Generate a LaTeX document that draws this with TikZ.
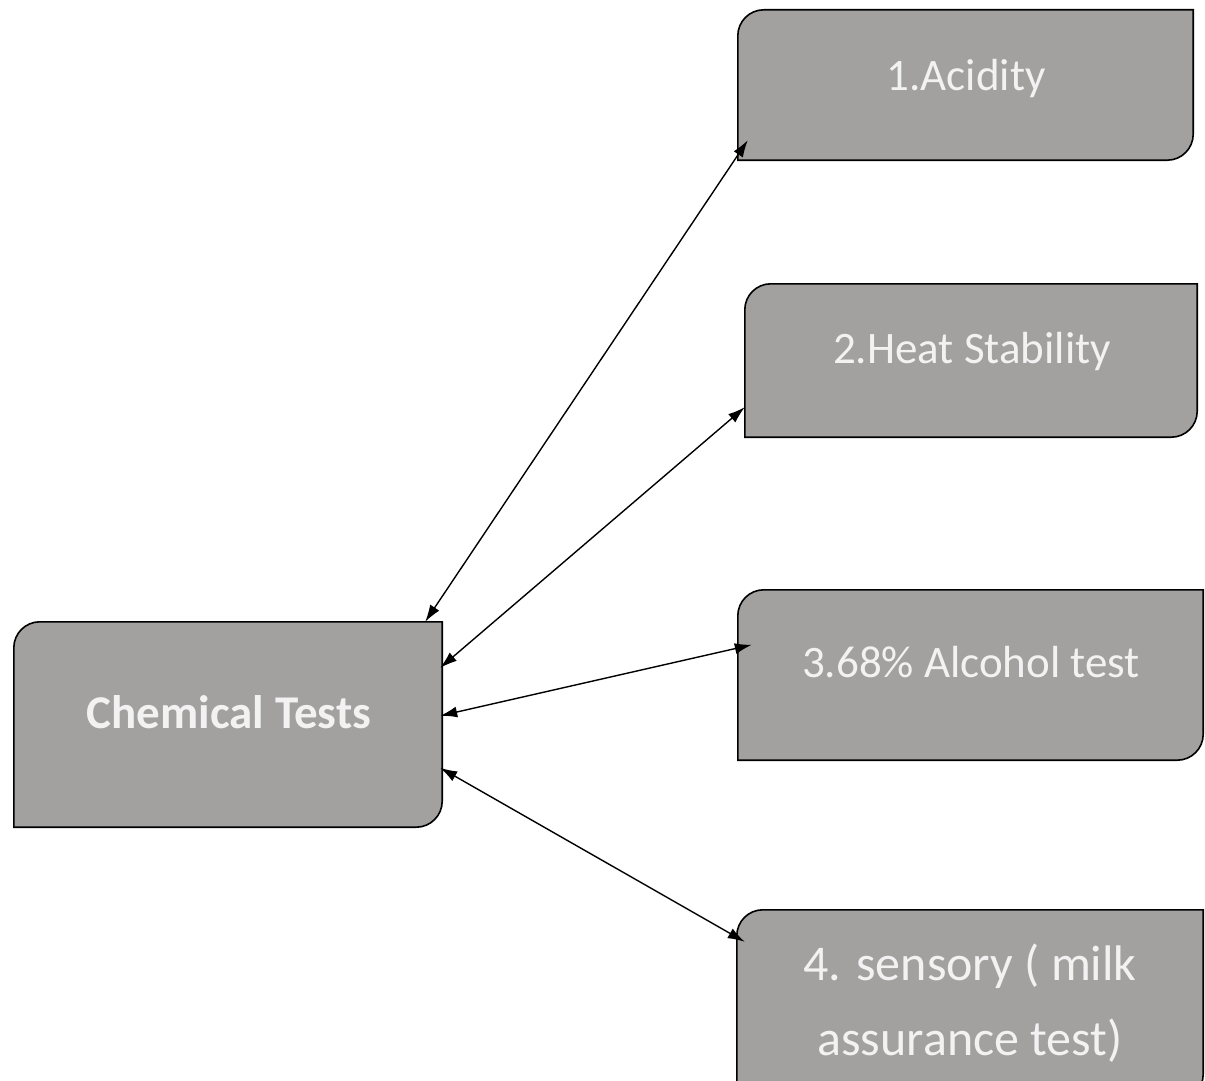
\documentclass[tikz,border=0pt]{standalone}
\usepackage{fontspec}
\setmainfont{Carlito}
\usetikzlibrary{calc,backgrounds,arrows.meta}
\definecolor{boxgray}{RGB}{163,160,160}
\definecolor{boxtext}{RGB}{242,242,242}
\tikzset{
  testbox/.style={inner sep=0pt},
  boxlabel/.style={inner sep=0pt, text=boxtext, align=center},
  link/.style={line width=1.4pt, {Latex[length=17pt,width=11pt]}-{Latex[length=17pt,width=11pt]}},
  shapefill/.style={fill=boxgray, draw=black, line width=1.6pt}
}
\newcommand\diagshape[1]{%
  \path[shapefill] (#1.south west) -- ($(#1.north west)+(0pt,-26pt)$)
    arc[start angle=180,end angle=90,radius=26pt] -- (#1.north east)
    -- ($(#1.south east)+(0pt,26pt)$)
    arc[start angle=0,end angle=-90,radius=26pt] -- cycle;}
\begin{document}
\begin{tikzpicture}[x=1pt,y=-1pt]
\clip (0,0) rectangle (1205,1081);
% boxes
\node[testbox, minimum width=428pt, minimum height=205pt] (chem) at (228,724.5) {};
\node[testbox, minimum width=455pt, minimum height=150pt] (acid) at (965.5,85) {};
\node[testbox, minimum width=452pt, minimum height=153pt] (heat) at (971,360.5) {};
\node[testbox, minimum width=465pt, minimum height=170pt] (alc) at (970.5,675) {};
\node[testbox, minimum width=466pt, minimum height=190pt] (sens) at (970,1005) {};
\begin{scope}[on background layer]
\fill[white] (0,0) rectangle (1205,1081);
\diagshape{chem}
\diagshape{acid}
\diagshape{heat}
\diagshape{alc}
\diagshape{sens}
\end{scope}
% labels
\node[boxlabel, anchor=base, font=\fontsize{47}{56}\selectfont\bfseries] (chemT) at (229,728) {Chemical Tests};
\node[boxlabel, anchor=base, font=\fontsize{45}{54}\selectfont] (acidT) at (966,90) {1.Acidity};
\node[boxlabel, anchor=base, font=\fontsize{45}{54}\selectfont] (heatT) at (972,363) {2.Heat Stability};
\node[boxlabel, anchor=base, font=\fontsize{45}{54}\selectfont] (alcT) at (971,677) {3.68\% Alcohol test};
\node[boxlabel, font=\fontsize{50}{75}\selectfont] (sensT) at (970,1003) {4. sensory ( milk\\assurance test)};
% connectors
\draw[link] ($(chem.north east)+(-17,0)$) -- ($(acid.south west)+(10,-20)$);
\draw[link] ($(chem.north east)+(-2,46)$) -- ($(heat.south west)+(0,-30)$);
\draw[link] ($(chem.north east)+(-2,94)$) -- ($(alc.north west)+(14,55)$);
\draw[link] ($(chem.north east)+(-2,146)$) -- ($(sens.north west)+(8,32)$);
\end{tikzpicture}
\end{document}
